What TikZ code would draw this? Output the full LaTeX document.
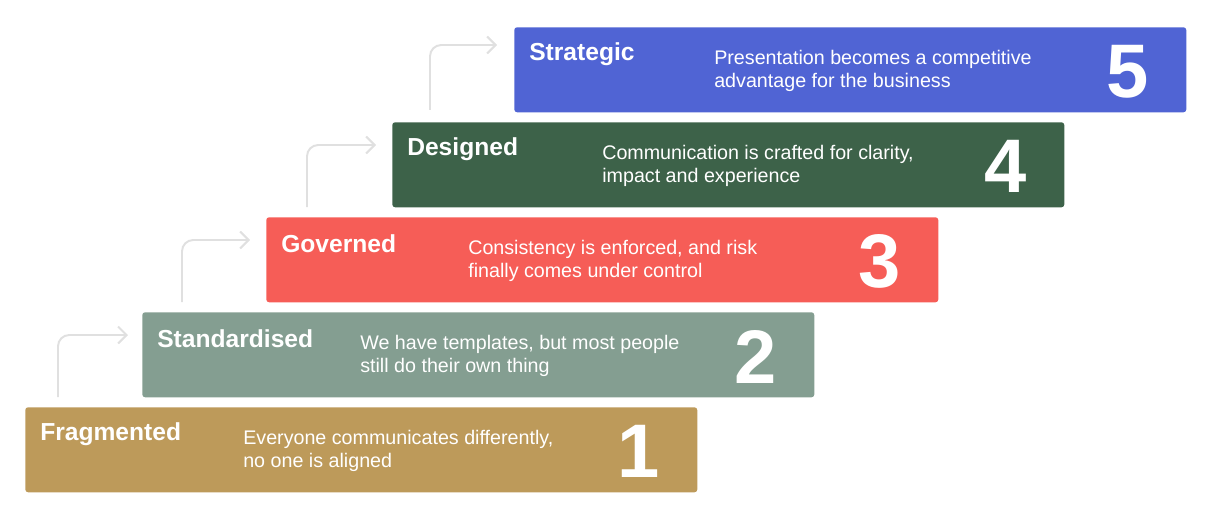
\documentclass[tikz,border=0pt]{standalone}
\usepackage{fontspec}
\setmainfont{Liberation Sans}
\usetikzlibrary{arrows.meta}
\definecolor{stepone}{HTML}{BD9A5A}
\definecolor{steptwo}{HTML}{849E91}
\definecolor{stepthree}{HTML}{F65D57}
\definecolor{stepfour}{HTML}{3D6249}
\definecolor{stepfive}{HTML}{5064D4}
\tikzset{
 stage/.style={fill=#1, rounded corners=2pt, minimum width=672*0.025cm, minimum height=85*0.025cm, anchor=north west, inner sep=0pt},
 stagetitle/.style={anchor=west, inner sep=0pt, text=white, font=\bfseries\fontsize{17.5}{20}\selectfont},
 stagetext/.style={anchor=west, inner sep=0pt, text=white, align=left, font=\fontsize{14}{16.5}\selectfont},
 stagenum/.style={anchor=east, inner sep=0pt, text=white, font=\bfseries\fontsize{54}{54}\selectfont},
 climb/.style={draw=black!12, line width=1.4pt, rounded corners=8pt, -{Straight Barb[length=6pt,width=12pt]}}
}
\newcommand{\stage}[8]{%
 \node[stage=#4] (box#1) at (#2,#3) {};
 \node[stagetitle] (title#1) at ([shift={(15,27)}]box#1.north west) {#5};
 \node[stagetext] (text#1) at ([shift={(#8,44)}]box#1.north west) {#6};
 \node[stagenum] (num#1) at ([shift={(-38,2)}]box#1.east) {#7};
}
\begin{document}
\begin{tikzpicture}[x=0.025cm,y=-0.025cm]
 \useasboundingbox (0,0) rectangle (1218,519);
 \stage{1}{25}{407}{stepone}{Fragmented}{Everyone communicates differently,\\no one is aligned}{1}{218};
 \stage{2}{142}{312}{steptwo}{Standardised}{We have templates, but most people\\still do their own thing}{2}{218};
 \stage{3}{266}{217}{stepthree}{Governed}{Consistency is enforced, and risk\\finally comes under control}{3}{202};
 \stage{4}{392}{122}{stepfour}{Designed}{Communication is crafted for clarity,\\impact and experience}{4}{210};
 \stage{5}{514}{27}{stepfive}{Strategic}{Presentation becomes a competitive\\advantage for the business}{5}{200};
 % climbing arrows
 \coordinate (foot1) at (58,397);  \coordinate (tip1) at (128,335);
 \coordinate (foot2) at (182,302); \coordinate (tip2) at (250,240);
 \coordinate (foot3) at (307,207); \coordinate (tip3) at (376,145);
 \coordinate (foot4) at (430,110); \coordinate (tip4) at (497,45);
 \foreach \i in {1,...,4}
  \draw[climb] (foot\i) |- (tip\i);
\end{tikzpicture}
\end{document}
